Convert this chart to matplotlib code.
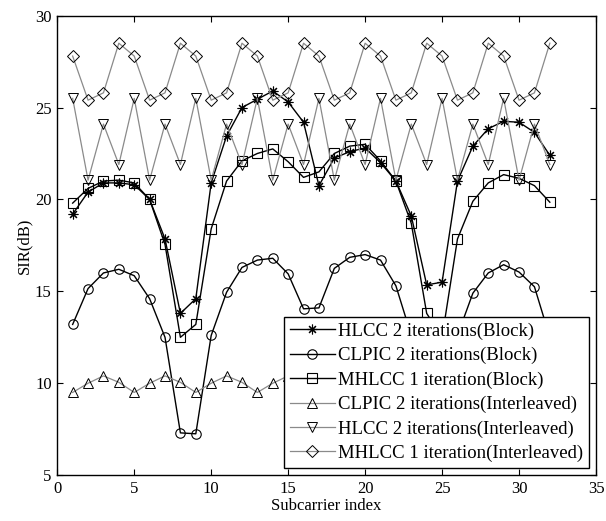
import matplotlib
matplotlib.use("Agg")
import matplotlib.pyplot as plt
import numpy as np

plt.rcParams['font.family'] = ['Liberation Serif', 'DejaVu Serif']

x = list(range(1, 33))

hlcc_block = [19.2, 20.4, 20.9, 20.9, 20.8, 20.0, 17.85, 13.8, 14.6, 20.9, 23.45, 25.0,
              25.45, 25.9, 25.3, 24.2, 20.75, 22.25, 22.6, 22.8, 22.0, 21.0, 19.1, 15.35,
              15.5, 21.0, 22.9, 23.85, 24.25, 24.2, 23.65, 22.4]
clpic_block = [13.2, 15.15, 16.0, 16.2, 15.85, 14.6, 12.5, 7.3, 7.25, 12.6, 14.95, 16.3,
               16.7, 16.8, 15.95, 14.05, 14.1, 16.25, 16.85, 17.0, 16.7, 15.3, 12.6, 7.3,
               7.3, 12.6, 14.9, 16.0, 16.45, 16.05, 15.25, 12.5]
mhlcc_block = [19.8, 20.6, 21.0, 21.05, 20.9, 20.0, 17.55, 12.5, 13.2, 18.4, 21.0, 22.1,
               22.5, 22.75, 22.05, 21.2, 21.5, 22.5, 22.9, 23.0, 22.1, 21.0, 18.7, 13.8,
               12.5, 17.85, 19.9, 20.9, 21.35, 21.15, 20.75, 19.85]
clpic_inter = [9.5, 10.0, 10.4, 10.05] * 8
hlcc_inter = [25.5, 21.05, 24.1, 21.9] * 8
mhlcc_inter = [27.8, 25.4, 25.8, 28.5] * 8

labels = ['HLCC 2 iterations(Block)', 'CLPIC 2 iterations(Block)',
          'MHLCC 1 iteration(Block)', 'CLPIC 2 iterations(Interleaved)',
          'HLCC 2 iterations(Interleaved)', 'MHLCC 1 iteration(Interleaved)']

fig = plt.figure(figsize=(6.06, 5.21), dpi=100)
ax = fig.add_axes([0.0945, 0.088, 0.889, 0.882])

gray = '#8a8a8a'
ms = 6.8
ax.plot(x, hlcc_block, color='black', lw=1.0, marker=(8, 2, 0), ms=7, mec='black', mew=0.8, label=labels[0])
ax.plot(x, clpic_block, color='black', lw=1.0, marker='o', ms=ms, mfc='none', mec='black', mew=0.8, label=labels[1])
ax.plot(x, mhlcc_block, color='black', lw=1.0, marker='s', ms=ms, mfc='none', mec='black', mew=0.8, label=labels[2])
ax.plot(x, clpic_inter, color=gray, lw=0.9, marker='^', ms=7.5, mfc='none', mec='black', mew=0.7, label=labels[3])
ax.plot(x, hlcc_inter, color=gray, lw=0.9, marker='v', ms=7.5, mfc='none', mec='black', mew=0.7, label=labels[4])
ax.plot(x, mhlcc_inter, color=gray, lw=0.9, marker='D', ms=5.8, mfc='none', mec='black', mew=0.7, label=labels[5])

ax.set_xlim(0, 35)
ax.set_ylim(5, 30)
ax.set_xticks(range(0, 36, 5))
ax.set_yticks(range(5, 31, 5))
ax.tick_params(direction='in', top=True, right=True, labelsize=12, length=4, width=0.8, pad=4)
for s in ax.spines.values():
    s.set_linewidth(1.0)

ax.set_xlabel('Subcarrier index', fontsize=12, labelpad=1)
ax.set_ylabel('SIR(dB)', fontsize=12, labelpad=2)

leg = ax.legend(loc='lower right', fontsize=13.5, frameon=True, fancybox=False,
                edgecolor='black', framealpha=1, handlelength=2.4, handletextpad=0.15,
                labelspacing=0.38, borderpad=0.3, borderaxespad=0.4)
leg.get_frame().set_linewidth(1.0)

fig.savefig('out.png', dpi=100)
